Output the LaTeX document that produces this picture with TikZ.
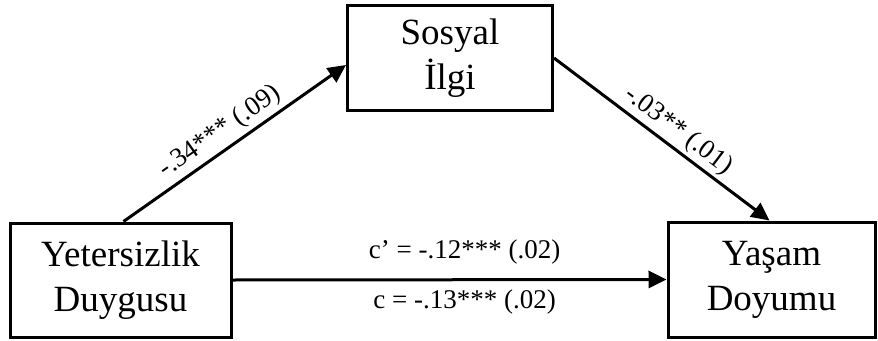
\documentclass[tikz,border=0pt]{standalone}
\usepackage{fontspec}
\setmainfont{Liberation Serif}
\usetikzlibrary{arrows.meta, positioning}

\begin{document}
\begin{tikzpicture}[
    x=1pt, y=-1pt,
    var/.style={rectangle, draw, line width=3pt, align=center, inner sep=0pt, font=\fontsize{37}{45}\selectfont},
    conn/.style={line width=3pt, -{Triangle[length=18pt, width=17pt]}},
    coef/.style={font=\fontsize{27}{32}\selectfont}
    ]
    \useasboundingbox (0,0) rectangle (878,340);

    % Predictor
    \node[var, minimum width=221pt, minimum height=114pt] (yeter) at (120.5,280) {Yetersizlik\\Duygusu};

    % Mediator
    \node[var, minimum width=205pt, minimum height=105pt] (sosyal) at (450,58) {Sosyal\\İlgi};

    % Outcome
    \node[var, minimum width=207pt, minimum height=115pt] (yasam) at (771.5,279.5) {Yaşam\\Doyumu};

    % a path
    \draw[conn] ([xshift=3pt]yeter.north) -- ([yshift=-7pt]sosyal.west)
        node[coef, pos=0.48, sloped, above, inner sep=4pt] (apath) {-.34*** (.09)};

    % b path
    \draw[conn] (sosyal.east) -- ([xshift=-2pt]yasam.north)
        node[coef, pos=0.53, sloped, above, inner sep=3pt] (bpath) {-.03** (.01)};

    % direct / total effect
    \draw[conn] (yeter.east) -- (yasam.west)
        node[coef, pos=0.535, above=14pt, inner sep=0pt] (cdirect) {c’ = -.12*** (.02)}
        node[coef, pos=0.535, below=9pt, inner sep=0pt] (ctotal) {c = -.13*** (.02)};

\end{tikzpicture}
\end{document}
